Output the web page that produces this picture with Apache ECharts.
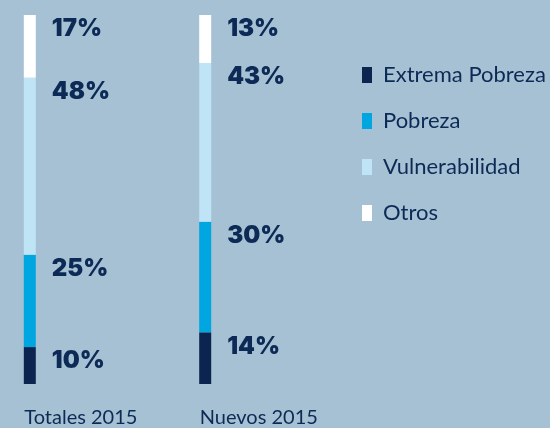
<!DOCTYPE html>
<html><head><meta charset="utf-8">
<script src="https://cdn.jsdelivr.net/npm/echarts@6/dist/echarts.min.js"></script>
<style>html,body{margin:0;padding:0;background:#a5c1d3}#c{width:550px;height:428px}</style>
</head><body><div id="c"></div>
<script>
const categories = ['Totales 2015', 'Nuevos 2015'];
const seriesNames = ['Extrema Pobreza', 'Pobreza', 'Vulnerabilidad', 'Otros'];
const extremaPobreza = [10, 14];
const pobreza = [25, 30];
const vulnerabilidad = [48, 43];
const otros = [17, 13];
const values = [extremaPobreza, pobreza, vulnerabilidad, otros];
const colors = ['#0b2550', '#00a6e0', '#bfe4f6', '#ffffff'];
const textColor = '#0d2a56';

const chart = echarts.init(document.getElementById('c'));
const gridLeft = 29.8, gridRight = 344.8, gridTop = 15, gridBottom = 44;
chart.setOption({
  backgroundColor: '#a5c1d3',
  animation: false,
  legend: {
    orient: 'vertical', left: 357, top: 59,
    data: seriesNames, icon: 'rect', itemWidth: 10, itemHeight: 16, itemGap: 24,
    textStyle: { color: textColor, fontSize: 22, fontFamily: 'Lato', padding: [0, 0, 0, 6] },
    selectedMode: false
  },
  grid: [
    { left: gridLeft, right: gridRight, top: gridTop, bottom: gridBottom },
    { left: gridLeft - 5.5, right: gridRight + 5.5, top: gridTop, bottom: gridBottom }
  ],
  xAxis: [
    { type: 'category', data: categories, boundaryGap: false, gridIndex: 0,
      axisLine: { show: false }, axisTick: { show: false }, axisLabel: { show: false } },
    { type: 'category', data: categories, boundaryGap: false, gridIndex: 1,
      axisLine: { show: false }, axisTick: { show: false },
      axisLabel: { align: 'left', margin: 25, color: textColor, fontSize: 20, fontFamily: 'Lato' } }
  ],
  yAxis: [
    { type: 'value', min: 0, max: 100, gridIndex: 0, show: false },
    { type: 'value', min: 0, max: 100, gridIndex: 1, show: false }
  ],
  series: seriesNames.map((name, i) => ({
    name, type: 'bar', stack: 'total', barWidth: 12, clip: false,
    xAxisIndex: 0, yAxisIndex: 0,
    itemStyle: { color: colors[i] },
    data: values[i],
    label: {
      show: true, position: [28, 14], align: 'left', verticalAlign: 'middle',
      formatter: '{c}%', color: textColor, fontSize: 24, fontWeight: 900, fontFamily: 'Inter'
    }
  }))
});
</script></body></html>
